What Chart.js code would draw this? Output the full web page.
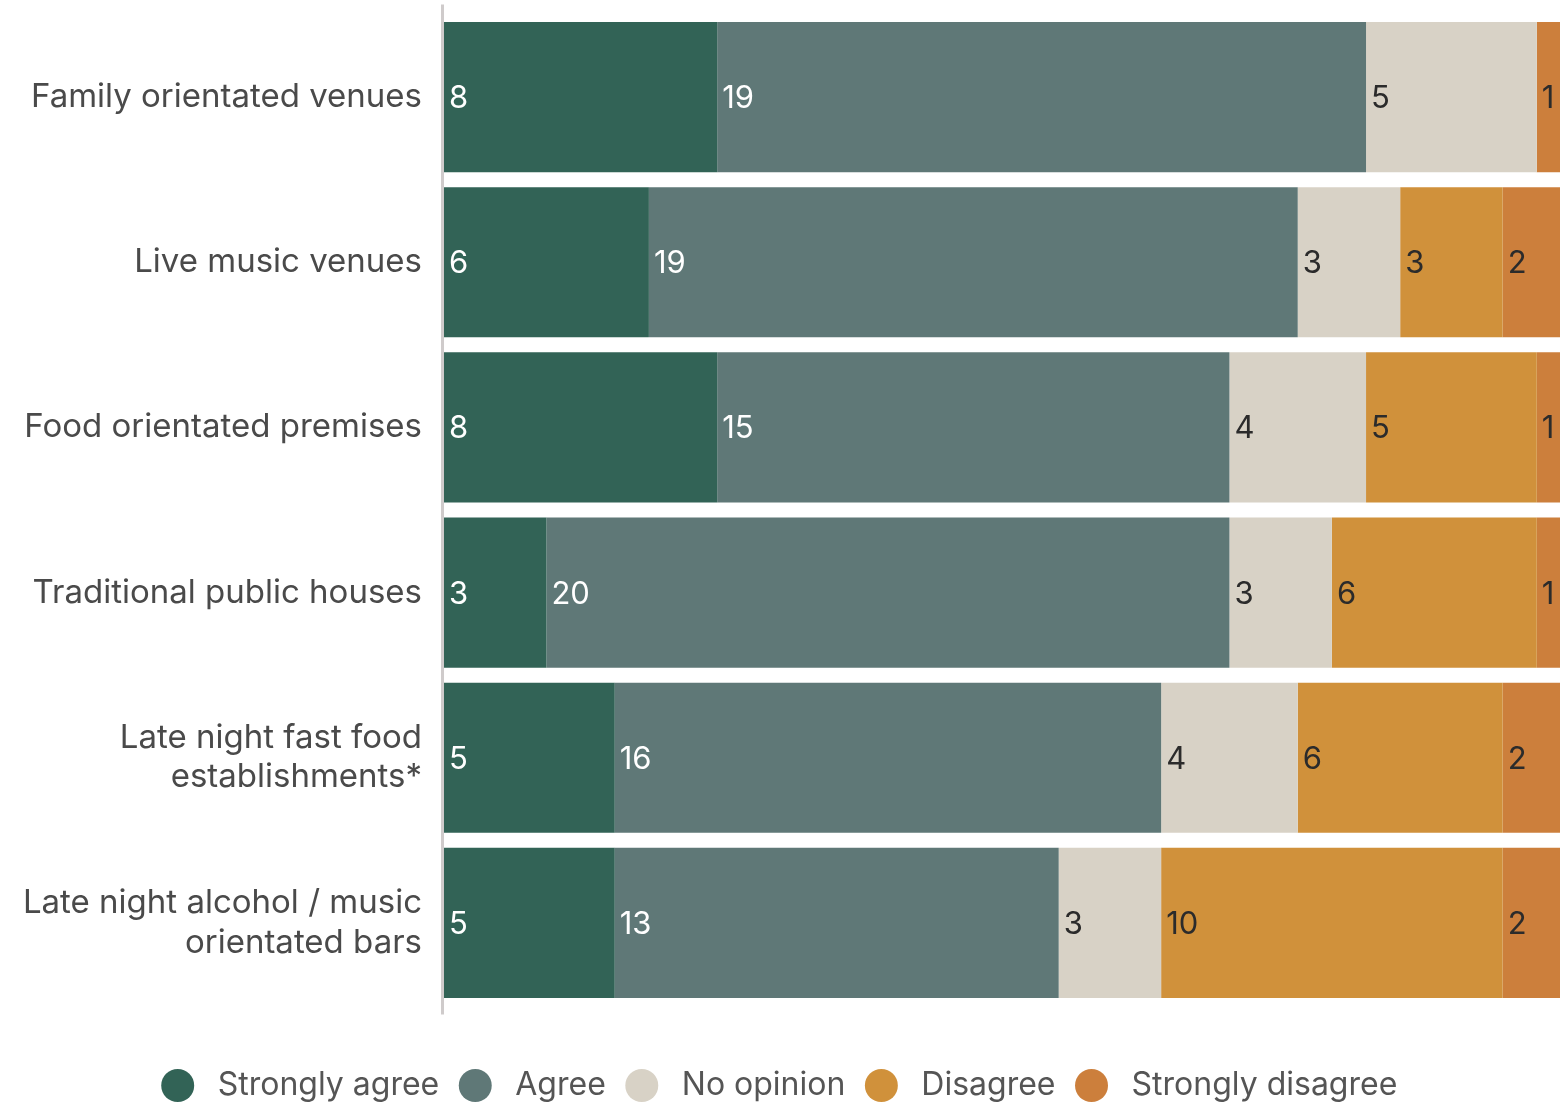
<!DOCTYPE html>
<html>
<head>
<meta charset="utf-8">
<script src="https://cdn.jsdelivr.net/npm/chart.js@4.4.1/dist/chart.umd.min.js"></script>
<style>
  html, body { margin: 0; padding: 0; background: #fff; overflow: hidden; }
</style>
</head>
<body>
<canvas id="chart" width="1560" height="1102"></canvas>
<script>
// categories (multi-line labels as arrays)
var categories = [
    'Family orientated venues',
    'Live music venues',
    'Food orientated premises',
    'Traditional public houses',
    ['Late night fast food', 'establishments*'],
    ['Late night alcohol / music', 'orientated bars']
];

// responses per category
var stronglyAgree    = [8, 6, 8, 3, 5, 5];
var agree            = [19, 19, 15, 20, 16, 13];
var noOpinion        = [5, 3, 4, 3, 4, 3];
var disagree         = [0, 3, 5, 6, 6, 10];
var stronglyDisagree = [1, 2, 1, 1, 2, 2];

var seriesNames  = ['Strongly agree', 'Agree', 'No opinion', 'Disagree', 'Strongly disagree'];
var seriesColors = ['#326356', '#5f7877', '#d8d2c6', '#d0913b', '#cc7f3c'];
var labelColors  = ['#ffffff', '#ffffff', '#2b2b2b', '#2b2b2b', '#2b2b2b'];

var FONT = 'Inter, "Noto Sans", sans-serif';

// value labels at the left of each segment
var segmentLabels = {
    id: 'segmentLabels',
    afterDatasetsDraw: function (chart) {
        var ctx = chart.ctx;
        ctx.save();
        ctx.font = '31px ' + FONT;
        ctx.textAlign = 'left';
        ctx.textBaseline = 'alphabetic';
        chart.data.datasets.forEach(function (ds, i) {
            var meta = chart.getDatasetMeta(i);
            meta.data.forEach(function (bar, j) {
                var v = ds.data[j];
                if (!v) return;
                var left = Math.min(bar.x, bar.base);
                ctx.fillStyle = labelColors[i];
                ctx.fillText(String(v), left + 5, bar.y + 11);
            });
        });
        ctx.restore();
    }
};

// grey vertical axis line, a bit longer than the plot area
var axisLine = {
    id: 'axisLine',
    afterDraw: function (chart) {
        var a = chart.chartArea;
        var ctx = chart.ctx;
        ctx.save();
        ctx.strokeStyle = '#cfcbcb';
        ctx.lineWidth = 3;
        ctx.beginPath();
        ctx.moveTo(a.left - 1.5, a.top - 10);
        ctx.lineTo(a.left - 1.5, a.bottom + 9);
        ctx.stroke();
        ctx.restore();
    }
};

var allSeries = [stronglyAgree, agree, noOpinion, disagree, stronglyDisagree];
var datasets = allSeries.map(function (values, i) {
    return {
        label: seriesNames[i],
        data: values,
        backgroundColor: seriesColors[i],
        borderWidth: 0,
        barPercentage: 1,
        categoryPercentage: 150 / 165
    };
});

new Chart(document.getElementById('chart'), {
    type: 'bar',
    data: { labels: categories, datasets: datasets },
    plugins: [segmentLabels, axisLine],
    options: {
        indexAxis: 'y',
        responsive: false,
        animation: false,
        layout: { padding: { top: 14.5, bottom: -9.5, left: 0, right: 0 } },
        scales: {
            x: {
                stacked: true,
                display: false,
                min: 0,
                max: 32.68
            },
            y: {
                stacked: true,
                grid: { display: false, drawTicks: false },
                border: { display: false },
                ticks: {
                    color: '#4a4a4a',
                    font: { family: FONT, size: 33 },
                    padding: 22
                },
                afterFit: function (scale) {
                    scale.width = 444;
                    scale.paddingTop = 0;
                    scale.paddingBottom = 0;
                }
            }
        },
        plugins: {
            tooltip: { enabled: false },
            legend: {
                position: 'bottom',
                title: { display: true, text: '', font: { size: 10 }, padding: { top: 31, bottom: 0 } },
                labels: {
                    usePointStyle: true,
                    pointStyle: 'circle',
                    boxWidth: 30,
                    boxHeight: 23.3,
                    padding: 21,
                    color: '#555555',
                    font: { family: FONT, size: 32 },
                    generateLabels: function (chart) {
                        return chart.data.datasets.map(function (ds, i) {
                            return {
                                text: ' ' + ds.label,
                                fillStyle: ds.backgroundColor,
                                strokeStyle: ds.backgroundColor,
                                lineWidth: 0,
                                pointStyle: 'circle',
                                fontColor: '#555555',
                                datasetIndex: i
                            };
                        });
                    }
                }
            }
        }
    }
});
</script>
</body>
</html>
